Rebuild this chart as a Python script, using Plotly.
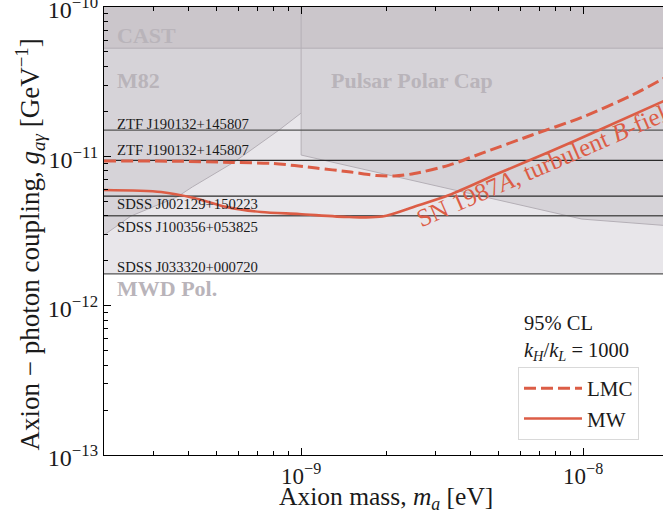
import numpy as np
import plotly.graph_objects as go

# ---------------- data ----------------
# SN 1987A (turbulent B-field) limits, k_H/k_L = 1000
lmc_mass = [2.0e-10, 3.5e-10, 5.7e-10, 8.0e-10, 1.13e-9, 1.5e-9, 1.85e-9, 2.14e-9,
            2.52e-9, 3.35e-9, 4.38e-9, 6.59e-9, 9.92e-9, 1.49e-8, 2.0e-8]
lmc_g = [9.3e-12, 9.28e-12, 9.1e-12, 8.95e-12, 8.35e-12, 7.85e-12, 7.44e-12, 7.38e-12,
         7.67e-12, 8.74e-12, 1.05e-11, 1.39e-11, 1.83e-11, 2.57e-11, 3.45e-11]

mw_mass = [2.0e-10, 3.19e-10, 4.17e-10, 5.46e-10, 7.21e-10, 9.84e-10, 1.48e-9, 1.94e-9,
           2.56e-9, 3.35e-9, 5.04e-9, 7.57e-9, 1.14e-8, 2.0e-8]
mw_g = [5.95e-12, 5.77e-12, 5.26e-12, 4.57e-12, 4.24e-12, 4.11e-12, 3.92e-12, 3.95e-12,
        4.65e-12, 5.51e-12, 7.73e-12, 1.069e-11, 1.50e-11, 2.42e-11]

# existing bounds
cast_g = 5.3e-11
m82_mass = [2.0e-10, 2.49e-10, 3.63e-10, 4.11e-10, 5.79e-10, 8.35e-10, 1.0e-9]
m82_g = [2.97e-12, 3.98e-12, 5.34e-12, 6.23e-12, 9.16e-12, 1.50e-11, 1.95e-11]
pulsar_mass = [1.0e-9, 9.9e-9, 2.0e-8]
pulsar_g = [1.02e-11, 3.8e-12, 3.43e-12]
mwd_g = 1.63e-12

# magnetic white-dwarf lines
wd_names = ["ZTF J190132+145807", "ZTF J190132+145807", "SDSS J002129+150223",
            "SDSS J100356+053825", "SDSS J033320+000720"]
wd_g = [1.50e-11, 9.4e-12, 5.42e-12, 4.0e-12, 1.63e-12]

m_min, m_max = 2.0e-10, 2.0e-8
g_top = 1e-10

x_major = [1e-9, 1e-8]
x_major_text = ["10<sup>−9</sup>", "10<sup>−8</sup>"]
y_major = [1e-13, 1e-12, 1e-11, 1e-10]
y_major_text = ["10<sup>−13</sup>", "10<sup>−12</sup>", "10<sup>−11</sup>", "10<sup>−10</sup>"]

# ---------------- styles ----------------
RED = "#dc5d46"
FONT = "Liberation Serif"
EDGE = "#b4afb6"
LABEL_COL = "#b9b4ba"
TXT = "#1a1a1a"

fig = go.Figure()

# light (MWD pol.) region
fig.add_trace(go.Scatter(
    x=[m_min, m_max, m_max, m_min, m_min], y=[mwd_g, mwd_g, g_top, g_top, mwd_g],
    fill="toself", fillcolor="#e8e6ea", line=dict(width=0), mode="lines",
    showlegend=False, hoverinfo="skip"))
# M82
fig.add_trace(go.Scatter(
    x=[m_min] + m82_mass + [m82_mass[-1], m_min], y=[g_top] + m82_g + [g_top, g_top],
    fill="toself", fillcolor="#d6d3d8", line=dict(width=0), mode="lines",
    showlegend=False, hoverinfo="skip"))
fig.add_trace(go.Scatter(x=m82_mass, y=m82_g, mode="lines",
    line=dict(color=EDGE, width=1), showlegend=False, hoverinfo="skip"))
# Pulsar polar cap
fig.add_trace(go.Scatter(
    x=[pulsar_mass[0]] + pulsar_mass + [pulsar_mass[-1], pulsar_mass[0]],
    y=[g_top] + pulsar_g + [g_top, g_top],
    fill="toself", fillcolor="#d6d3d8", line=dict(width=0), mode="lines",
    showlegend=False, hoverinfo="skip"))
# CAST
fig.add_trace(go.Scatter(
    x=[m_min, m_max, m_max, m_min, m_min], y=[cast_g, cast_g, g_top, g_top, cast_g],
    fill="toself", fillcolor="#cbc6cb", line=dict(width=0), mode="lines",
    showlegend=False, hoverinfo="skip"))
fig.add_trace(go.Scatter(x=[m_min, m_max], y=[cast_g, cast_g], mode="lines",
    line=dict(color=EDGE, width=1), showlegend=False, hoverinfo="skip"))
fig.add_trace(go.Scatter(x=[pulsar_mass[0]] + pulsar_mass, y=[g_top] + pulsar_g, mode="lines",
    line=dict(color=EDGE, width=1), showlegend=False, hoverinfo="skip"))

# WD lines
wd_cols = ["#555555", "#2a2a2a", "#2a2a2a", "#555555", "#555555"]
for g, c in zip(wd_g, wd_cols):
    fig.add_trace(go.Scatter(x=[m_min, m_max], y=[g, g], mode="lines",
        line=dict(color=c, width=1.3), showlegend=False, hoverinfo="skip"))

# SN1987A curves
fig.add_trace(go.Scatter(x=lmc_mass, y=lmc_g, mode="lines", name="LMC",
    line=dict(color=RED, width=3, dash="12px,5px", shape="spline", smoothing=0.8)))
fig.add_trace(go.Scatter(x=mw_mass, y=mw_g, mode="lines", name="MW",
    line=dict(color=RED, width=2.6, shape="spline", smoothing=0.8)))

# ---------------- annotations ----------------
ann = []
lx = np.log10(m_min)
wd_shift = [6, 10.5, -8, -11, 7]
for name, g, s in zip(wd_names, wd_g, wd_shift):
    ann.append(dict(x=lx, y=np.log10(g), xshift=11, yshift=s, text=name, showarrow=False,
                    xanchor="left", yanchor="middle", font=dict(family=FONT, size=14.7, color=TXT)))

region_labels = [("CAST", lx, 6.4e-11, 11), ("M82", lx, 3.24e-11, 11),
                 ("Pulsar Polar Cap", np.log10(1e-9), 3.24e-11, 28), ("MWD Pol.", lx, 1.31e-12, 11)]
for t, x, g, xs in region_labels:
    ann.append(dict(x=x, y=np.log10(g), xshift=xs, text="<b>" + t + "</b>", showarrow=False,
                    xanchor="left", yanchor="middle", font=dict(family=FONT, size=22, color=LABEL_COL)))

ann.append(dict(x=-8.128, y=-11.045, text="SN 1987<i>A</i>, turbulent <i>B</i>-field",
                textangle=-23.5, showarrow=False, xanchor="center", yanchor="middle",
                font=dict(family=FONT, size=25, color=RED)))
ann.append(dict(x=-8.216, y=-12.117, text="95% CL", showarrow=False, xanchor="left",
                yanchor="middle", font=dict(family=FONT, size=20.5, color=TXT)))
ann.append(dict(x=-8.216, y=-12.304, text="<i>k</i><sub><i>H</i></sub>/<i>k</i><sub><i>L</i></sub> = 1000",
                showarrow=False, xanchor="left", yanchor="middle",
                font=dict(family=FONT, size=20.5, color=TXT)))

# axis titles
ann.append(dict(xref="paper", yref="paper", x=0.5045, y=-0.096,
                text="Axion mass, <i>m</i><sub><i>a</i></sub> [eV]", showarrow=False,
                xanchor="center", yanchor="middle", font=dict(family=FONT, size=25.5, color=TXT)))
ann.append(dict(xref="paper", yref="paper", x=-0.1324, y=0.47,
                text="Axion − photon coupling, <i>g</i><sub><i>aγ</i></sub> [GeV<sup>−1</sup>]",
                textangle=-90, showarrow=False, xanchor="center", yanchor="middle",
                font=dict(family=FONT, size=27, color=TXT)))

x_minor = [k * 10.0 ** e for e in (-10, -9, -8) for k in range(2, 10)]
y_minor = [k * 10.0 ** e for e in (-13, -12, -11) for k in range(2, 10)]

fig.update_layout(
    width=663, height=519,
    margin=dict(l=104, r=0, t=7, b=64),
    paper_bgcolor="white", plot_bgcolor="white",
    font=dict(family=FONT, color=TXT),
    annotations=ann,
    showlegend=True,
    legend=dict(x=0.7406, y=0.1964, xanchor="left", yanchor="top",
                bgcolor="white", bordercolor="#d9d9d9", borderwidth=1,
                font=dict(family=FONT, size=21, color=TXT),
                itemwidth=58, tracegroupgap=0),
    xaxis=dict(type="log", range=[np.log10(m_min), -7.717], automargin=False,
               tickvals=x_major, ticktext=x_major_text, ticks="inside", ticklen=7,
               tickcolor="black", showline=True, linecolor="black", linewidth=1.2,
               mirror="allticks", showgrid=False, zeroline=False,
               ticklabeloverflow="allow",
               tickfont=dict(family=FONT, size=23),
               minor=dict(tickvals=x_minor, ticks="inside", ticklen=3.5, tickcolor="black", showgrid=False)),
    yaxis=dict(type="log", range=[-13.0002, -9.9998], automargin=False,
               tickvals=y_major, ticktext=y_major_text, ticks="inside", ticklen=7,
               tickcolor="black", showline=True, linecolor="black", linewidth=1.2,
               mirror=False, showgrid=False, zeroline=False,
               ticklabeloverflow="allow", ticklabelshift=3,
               tickfont=dict(family=FONT, size=24),
               minor=dict(tickvals=y_minor, ticks="inside", ticklen=3.5, tickcolor="black", showgrid=False)),
)

fig.write_html("out.html", post_script="document.body.style.margin='0';",
               config={"displayModeBar": False})
